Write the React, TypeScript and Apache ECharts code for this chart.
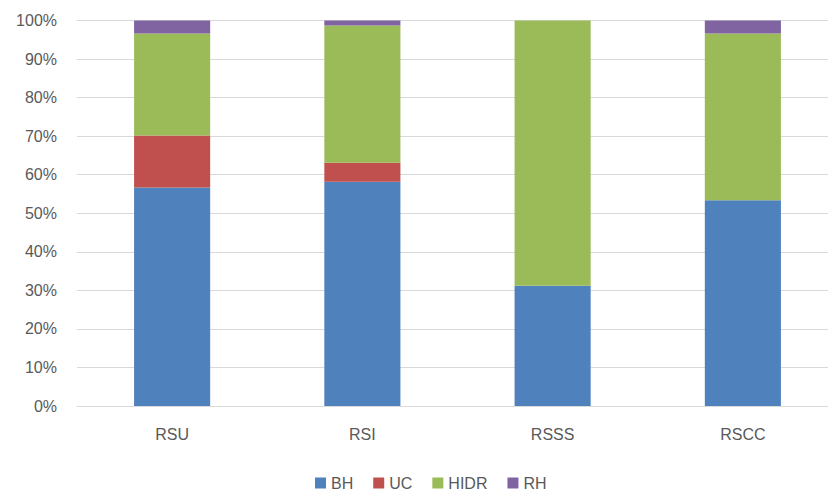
import React, { useEffect, useRef } from "react";
import * as echarts from "echarts";

const categories = ["RSU", "RSI", "RSSS", "RSCC"];
const seriesNames = ["BH", "UC", "HIDR", "RH"];
const bhValues = [56.7, 58.2, 31.2, 53.4];
const ucValues = [13.5, 4.9, 0, 0];
const hidrValues = [26.4, 35.6, 68.8, 43.2];
const rhValues = [3.4, 1.3, 0, 3.4];
const colors = ["#4F81BD", "#C0504D", "#9BBB59", "#8064A2"];

export default function App() {
  const ref = useRef<HTMLDivElement>(null);
  useEffect(() => {
    if (!ref.current) return;
    const chart = echarts.init(ref.current, undefined, { renderer: "svg" });
    const allValues = [bhValues, ucValues, hidrValues, rhValues];
    const font = "Liberation Sans";
    chart.setOption({
      animation: false,
      textStyle: { fontFamily: font },
      grid: {
        left: 77,
        width: 761,
        top: 20.5,
        bottom: 84,
        containLabel: false,
        outerBoundsMode: "none",
      },
      legend: {
        data: seriesNames,
        left: 315,
        top: 475,
        padding: 0,
        itemWidth: 11,
        itemHeight: 11,
        itemGap: 20,
        icon: "rect",
        textStyle: { color: "#595959", fontSize: 16, lineHeight: 16, fontFamily: font },
      },
      xAxis: {
        type: "category",
        data: categories,
        axisLine: { show: true, lineStyle: { color: "#d9d9d9", width: 1 } },
        axisTick: { show: false },
        axisLabel: { color: "#595959", fontSize: 16, fontFamily: font, margin: 20 },
      },
      yAxis: {
        type: "value",
        min: 0,
        max: 100,
        interval: 10,
        axisLine: { show: false },
        axisTick: { show: false },
        splitLine: { lineStyle: { color: "#d9d9d9", width: 1 } },
        axisLabel: {
          color: "#595959",
          fontSize: 16,
          fontFamily: font,
          margin: 20,
          formatter: (v: number) => `${v}%`,
        },
      },
      series: seriesNames.map((name, i) => ({
        name,
        type: "bar",
        stack: "total",
        barWidth: "40%",
        data: allValues[i],
        itemStyle: { color: colors[i] },
      })),
    });
    return () => chart.dispose();
  }, []);
  return <div ref={ref} style={{ width: 828, height: 490, position: "absolute", left: 0, top: 0 }} />;
}
